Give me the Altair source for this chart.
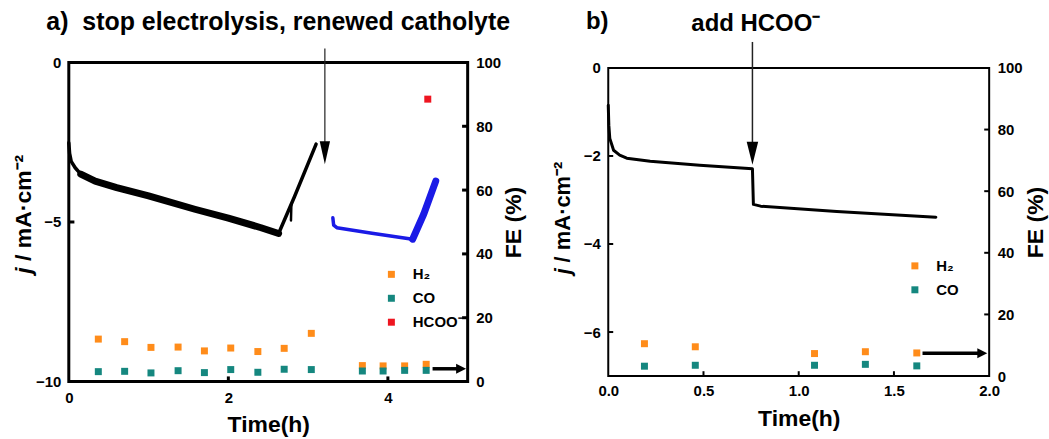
import altair as alt
import pandas as pd

FONT = "Liberation Sans"
ORANGE = "#FF8C1A"
TEAL = "#15877F"
RED = "#EE1520"
BLUE = "#1A1AE6"
DARK = "#222222"

# ---------------- panel a data ----------------
a_spike_t = [0.0, 0.01, 0.03, 0.08, 0.15]
a_spike_j = [-2.52, -2.85, -3.1, -3.3, -3.5]
a_decay_t = [0.15, 0.33, 0.6, 1.0, 1.58, 2.0, 2.41, 2.63]
a_decay_j = [-3.5, -3.72, -3.92, -4.18, -4.6, -4.88, -5.18, -5.36]
a_rise_t = [2.63, 2.83, 3.1]
a_rise_j = [-5.36, -4.2, -2.56]
a_spur_t = [2.79, 2.785]
a_spur_j = [-4.45, -4.95]
a_blue_flat_t = [3.31, 3.32, 3.36, 3.8, 4.31]
a_blue_flat_j = [-4.87, -5.1, -5.18, -5.35, -5.54]
a_blue_rise_t = [4.31, 4.45, 4.6]
a_blue_rise_j = [-5.54, -4.75, -3.72]

a_fe_t = [0.37, 0.70, 1.03, 1.37, 1.70, 2.03, 2.37, 2.70, 3.04, 3.68, 3.94, 4.21, 4.48]
a_h2 = [13.3, 12.5, 10.7, 10.8, 9.6, 10.5, 9.4, 10.4, 15.1, 5.0, 4.9, 4.9, 5.4]
a_co = [3.1, 3.2, 2.7, 3.4, 2.8, 3.75, 2.9, 3.85, 3.75, 3.3, 3.3, 3.5, 3.5]
a_hcoo_t = [4.5]
a_hcoo = [88.5]

a_arrow_t = 3.21
a_arrow_j = [0.44, -3.19]          # top of line, tip
a_fe_arrow_t = [4.56, 4.98]        # start, tip
a_fe_arrow_fe = 4.0

a_x_ticks = [0, 2, 4]
a_j_ticks = [-10, -5, 0]
fe_ticks = [0, 20, 40, 60, 80, 100]

# ---------------- panel b data ----------------
b_t = [0.0, 0.003, 0.008, 0.028, 0.06, 0.097, 0.22, 0.48, 0.757, 0.762, 0.8, 1.2, 1.72]
b_j = [-0.85, -1.3, -1.6, -1.87, -1.98, -2.05, -2.12, -2.21, -2.29, -3.1, -3.14, -3.26, -3.39]
b_fe_t = [0.19, 0.457, 1.083, 1.35, 1.62]
b_h2 = [10.5, 9.5, 7.3, 7.9, 7.5]
b_co = [3.2, 3.5, 3.5, 3.8, 3.3]

b_arrow_t = 0.757
b_arrow_j = [0.59, -2.2]
b_fe_arrow_t = [1.65, 1.99]
b_fe_arrow_fe = 7.4

b_x_ticks = [0.0, 0.5, 1.0, 1.5, 2.0]
b_j_ticks = [-6, -4, -2, 0]

one = pd.DataFrame({"k": [0]})


def lab_axis(**kw):
    base = dict(grid=False, ticks=False, domain=False, labelFont=FONT, labelFontSize=15,
                labelFontWeight="bold", labelColor="black", titleFont=FONT,
                titleFontWeight="bold", titleColor="black", labelFlush=False,
                labelOverlap=False)
    base.update(kw)
    return alt.Axis(**base)


def txt(text, x, y, size, angle=0, align="center", style="normal"):
    return alt.Chart(one).mark_text(
        text=text, font=FONT, fontSize=size, fontWeight="bold", fontStyle=style,
        angle=angle, align=align, baseline="middle", color="black"
    ).encode(x=alt.value(x), y=alt.value(y))


def panel(W, H, xdom, jdom, xt, jt, xfmt, curves, fe_df, colors, arrow_t, arrow_j,
          head_shape, head_size, fe_arrow_t, fe_arrow_fe, texts, legend_xy, frame_w,
          xlabpad, xtitlepad, xtick_len, jtick_len, fetick_len, arrow_w):
    sx = alt.Scale(domain=xdom, nice=False, zero=False)
    sj = alt.Scale(domain=jdom, nice=False, zero=False)
    sf = alt.Scale(domain=[0, 100], nice=False, zero=False)
    ax_x = lab_axis(values=xt, format=xfmt, title="Time(h)", labelPadding=xlabpad,
                    titleFontSize=23, titlePadding=xtitlepad)
    ax_j = lab_axis(values=jt, title=None, orient="left", labelPadding=8)
    ax_f = lab_axis(values=fe_ticks, title="FE (%)", orient="right", labelPadding=8,
                    titleFontSize=23, titleAngle=270, titleBaseline="top", titlePadding=2)

    def X(f="t"):
        return alt.X(f + ":Q", scale=sx, axis=ax_x)

    def J(f="j"):
        return alt.Y(f + ":Q", scale=sj, axis=ax_j)

    def F(f="fe"):
        return alt.Y(f + ":Q", scale=sf, axis=ax_f)

    jl = []
    for ts, js, color, sw in curves:
        df = pd.DataFrame({"t": ts, "j": js})
        jl.append(alt.Chart(df).mark_line(color=color, strokeWidth=sw, strokeJoin="round",
                                          strokeCap="round").encode(
            x=X(), y=J(), order=alt.Order("o:Q")).transform_window(o="row_number()"))
    # inward ticks on x (bottom) and j (left) axes
    xt_in = [v for v in xt if xdom[0] < v < xdom[1]]
    dfx = pd.DataFrame({"t": xt_in, "j": [jdom[0]] * len(xt_in),
                        "j2": [jdom[0] + xtick_len] * len(xt_in)})
    jl.append(alt.Chart(dfx).mark_rule(color="black", strokeWidth=frame_w).encode(
        x=X(), y=J(), y2=alt.Y2("j2:Q")))
    jt_in = [v for v in jt if jdom[0] < v < jdom[1]]
    dfj = pd.DataFrame({"j": jt_in, "t": [xdom[0]] * len(jt_in),
                        "t2": [xdom[0] + jtick_len] * len(jt_in)})
    jl.append(alt.Chart(dfj).mark_rule(color="black", strokeWidth=frame_w).encode(
        x=X(), x2=alt.X2("t2:Q"), y=J()))
    # annotation arrow (vertical)
    dfa = pd.DataFrame({"t": [arrow_t], "j": [arrow_j[0]], "j2": [arrow_j[1] + 0.3]})
    jl.append(alt.Chart(dfa).mark_rule(color=DARK, strokeWidth=arrow_w).encode(
        x=X(), y=J(), y2=alt.Y2("j2:Q")))
    dfh = pd.DataFrame({"t": [arrow_t], "j": [arrow_j[1]]})
    jl.append(alt.Chart(dfh).mark_point(shape=head_shape, size=head_size, filled=True,
                                        color="black", opacity=1, strokeWidth=0).encode(
        x=X(), y=J()))
    for t in texts:
        jl.append(txt(*t[:4], **t[4]))
    jgroup = alt.layer(*jl)

    fl = []
    fl.append(alt.Chart(fe_df).mark_square(size=49, opacity=1).encode(
        x=X(), y=F(),
        color=alt.Color("sp:N", scale=alt.Scale(domain=list(colors.keys()),
                                                range=list(colors.values())),
                        legend=alt.Legend(orient="none", legendX=legend_xy[0],
                                          legendY=legend_xy[1], title=None,
                                          symbolType="square", symbolSize=49,
                                          symbolStrokeWidth=0, labelFont=FONT,
                                          labelFontSize=15, labelFontWeight="bold",
                                          labelColor="black", labelOffset=14,
                                          rowPadding=8, padding=0))))
    fet_in = [v for v in fe_ticks if 0 < v < 100]
    dff = pd.DataFrame({"fe": fet_in, "t": [xdom[1] - fetick_len] * len(fet_in),
                        "t2": [xdom[1]] * len(fet_in)})
    fl.append(alt.Chart(dff).mark_rule(color="black", strokeWidth=frame_w).encode(
        x=X(), x2=alt.X2("t2:Q"), y=F()))
    dfr = pd.DataFrame({"t": [fe_arrow_t[0]], "t2": [fe_arrow_t[1] - (xdom[1] - xdom[0]) * 0.015],
                        "fe": [fe_arrow_fe]})
    fl.append(alt.Chart(dfr).mark_rule(color="black", strokeWidth=3.5).encode(
        x=X(), x2=alt.X2("t2:Q"), y=F()))
    dfrh = pd.DataFrame({"t": [fe_arrow_t[1]], "fe": [fe_arrow_fe]})
    fl.append(alt.Chart(dfrh).mark_point(shape="M-2,-1L-2,1L0,0Z", size=100, filled=True,
                                         color="black", opacity=1, strokeWidth=0).encode(
        x=X(), y=F()))
    fgroup = alt.layer(*fl)

    return alt.layer(jgroup, fgroup).resolve_scale(y="independent").properties(
        width=W, height=H, view=alt.ViewBackground(stroke="black", strokeWidth=frame_w))


# FE tables
a_fe_df = pd.DataFrame({
    "t": a_fe_t + a_fe_t + a_hcoo_t,
    "fe": a_h2 + a_co + a_hcoo,
    "sp": ["H₂"] * len(a_fe_t) + ["CO"] * len(a_fe_t) + ["HCOO⁻"] * len(a_hcoo_t),
})
b_fe_df = pd.DataFrame({
    "t": b_fe_t + b_fe_t,
    "fe": b_h2 + b_co,
    "sp": ["H₂"] * len(b_fe_t) + ["CO"] * len(b_fe_t),
})

WA, HA = 400, 320
WB, HB = 382, 309

left = panel(
    WA, HA, [0, 5], [-10, 0], a_x_ticks, a_j_ticks, "d",
    [(a_spike_t, a_spike_j, "black", 3.5), (a_decay_t, a_decay_j, "black", 7),
     (a_rise_t, a_rise_j, "black", 3.5), (a_spur_t, a_spur_j, "black", 2.5),
     (a_blue_flat_t, a_blue_flat_j, BLUE, 3.5),
     (a_blue_rise_t, a_blue_rise_j, BLUE, 7)],
    a_fe_df, {"H₂": ORANGE, "CO": TEAL, "HCOO⁻": RED},
    a_arrow_t, a_arrow_j, "M-0.45,-2L0.45,-2L0,0Z", 529,
    a_fe_arrow_t, a_fe_arrow_fe,
    [("a)\u00a0\u00a0stop electrolysis, renewed catholyte", 210, -41, 25, {}),
     ("j", -45, 212, 23, dict(angle=270, align="left", style="italic")),
     ("/ mA·cm⁻²", -45, 199, 23, dict(angle=270, align="left"))],
    (316, 205), 3, 9, 8, 0.16, 0.07, 0.07, 1.2,
)

right = panel(
    WB, HB, [0, 2], [-7, 0], b_x_ticks, b_j_ticks, ".1f",
    [(b_t, b_j, "black", 3)],
    b_fe_df, {"H₂": ORANGE, "CO": TEAL},
    b_arrow_t, b_arrow_j, "M-0.5,-2L0.5,-2L0,0Z", 529,
    b_fe_arrow_t, b_fe_arrow_fe,
    [("b)", -11, -46, 24, {}),
     ("add HCOO⁻", 148, -44, 24, {}),
     ("j", -45, 207, 22, dict(angle=270, align="left", style="italic")),
     ("/ mA·cm⁻²", -45, 195, 22, dict(angle=270, align="left"))],
    (300, 191), 2, 8, 9, 0.11, 0.026, 0.026, 1.5,
)

chart = alt.hconcat(left, right, spacing=141, bounds="flush", center=True).resolve_scale(
    color="independent").resolve_legend(color="independent").properties(
    padding={"left": 11, "top": 7, "right": 0, "bottom": 0}, background="white")

chart.save("out.html", embed_options={"renderer": "svg", "actions": False})
